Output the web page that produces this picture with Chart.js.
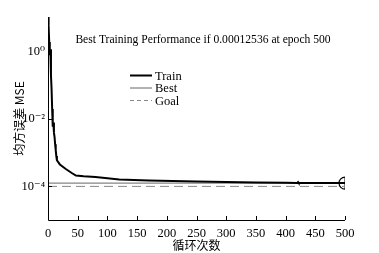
<!DOCTYPE html>
<html>
<head>
<meta charset="utf-8">
<script src="https://cdn.jsdelivr.net/npm/chart.js@4.4.1/dist/chart.umd.min.js"></script>
<style>
  html, body { margin: 0; padding: 0; background: #fff; }
  #wrap { width: 379px; height: 253px; position: relative; }
</style>
</head>
<body>
<div id="wrap"><canvas id="perfChart" width="379" height="253"></canvas></div>
<script>
// training record
const trainEpochs = [0, 1, 2, 3, 4, 5, 6, 7, 8, 9, 10, 11, 12, 13, 14, 15, 20, 30, 40, 47, 60, 80, 100, 120, 170, 250, 300, 350, 400, 420, 421, 422, 450, 500];
const trainMse = [11, 6, 2, 0.8, 1.2, 0.2, 0.08, 0.02, 0.006, 0.008, 0.004, 0.003, 0.0018, 0.0012, 0.0008, 0.0006, 0.00045, 0.00033, 0.00025, 0.00021, 0.0002, 0.00019, 0.000175, 0.00016, 0.00015, 0.00014, 0.000135, 0.00013, 0.000128, 0.000127, 0.000134, 0.000127, 0.000126, 0.00012536];
const bestValue = 0.00012536;
const bestEpoch = 500;
const goalValue = 0.0001;
const xTicks = [0, 50, 100, 150, 200, 250, 300, 350, 400, 450, 500];
const yTicks = [1e-4, 1e-2, 1];
const yTickLabels = ['10\u207B\u2074', '10\u207B\u00B2', '10\u2070'];
const titleText = 'Best Training Performance if 0.00012536 at epoch 500';
const serif = '"Liberation Serif", "DejaVu Serif", serif';

const trainPoints = trainEpochs.map((e, i) => ({ x: e, y: trainMse[i] }));

// ticks inside the axes, title and legend inside the plot like matlab
const matlabLook = {
    id: 'matlabLook',
    afterDraw(chart) {
        const ctx = chart.ctx;
        const xs = chart.scales.x;
        const ys = chart.scales.y;
        const area = chart.chartArea;
        ctx.save();
        ctx.strokeStyle = '#000';
        ctx.lineWidth = 1;
        ctx.beginPath();
        ctx.moveTo(area.left + 0.5, area.top);
        ctx.lineTo(area.left + 0.5, area.bottom + 0.5);
        ctx.lineTo(area.right, area.bottom + 0.5);
        ctx.stroke();
        xTicks.forEach(v => {
            const px = Math.round(xs.getPixelForValue(v)) + 0.5;
            ctx.beginPath();
            ctx.moveTo(px, area.bottom);
            ctx.lineTo(px, area.bottom - 4);
            ctx.stroke();
        });
        yTicks.forEach(v => {
            const py = Math.round(ys.getPixelForValue(v)) + 0.5;
            ctx.beginPath();
            ctx.moveTo(area.left, py);
            ctx.lineTo(area.left + 4, py);
            ctx.stroke();
        });

        ctx.fillStyle = '#000';
        ctx.font = '11.6px ' + serif;
        ctx.textAlign = 'center';
        ctx.textBaseline = 'middle';
        ctx.fillText(titleText, 203, 40);

        const legend = [
            { label: 'Train', color: '#000', width: 2, dash: [] },
            { label: 'Best', color: '#666', width: 1, dash: [] },
            { label: 'Goal', color: '#888', width: 1, dash: [4, 3] }
        ];
        ctx.font = '12.5px ' + serif;
        ctx.textAlign = 'left';
        legend.forEach((item, i) => {
            const y = 75.5 + i * 12.5;
            ctx.strokeStyle = item.color;
            ctx.lineWidth = item.width;
            ctx.setLineDash(item.dash);
            ctx.beginPath();
            ctx.moveTo(130, y);
            ctx.lineTo(152, y);
            ctx.stroke();
            ctx.setLineDash([]);
            ctx.fillText(item.label, 155, y + 1);
        });
        ctx.restore();
    }
};

new Chart(document.getElementById('perfChart').getContext('2d'), {
    type: 'line',
    data: {
        datasets: [
            {
                label: 'Train',
                data: trainPoints,
                borderColor: '#000',
                borderWidth: 2,
                pointRadius: 0,
                tension: 0
            },
            {
                label: 'Best',
                data: [{ x: 0, y: bestValue }, { x: bestEpoch, y: bestValue }],
                borderColor: '#666',
                borderWidth: 1,
                pointRadius: 0
            },
            {
                label: 'Goal',
                data: [{ x: 0, y: goalValue }, { x: bestEpoch, y: goalValue }],
                borderColor: '#888',
                borderWidth: 1,
                borderDash: [9, 5],
                pointRadius: 0
            },
            {
                label: 'Best point',
                data: [{ x: bestEpoch, y: bestValue }],
                showLine: false,
                pointStyle: 'circle',
                pointRadius: 6,
                pointBorderColor: '#000',
                pointBackgroundColor: 'rgba(0,0,0,0)',
                pointBorderWidth: 1.2
            },
            {
                label: 'Best mark',
                data: [{ x: bestEpoch, y: bestValue }],
                showLine: false,
                pointStyle: 'line',
                rotation: 90,
                pointRadius: 6,
                pointBorderColor: '#000',
                pointBorderWidth: 1
            }
        ]
    },
    options: {
        responsive: false,
        animation: false,
        layout: { padding: { left: 0, top: 17, right: 34, bottom: 0 } },
        plugins: {
            legend: { display: false },
            title: { display: false },
            tooltip: { enabled: false }
        },
        scales: {
            x: {
                type: 'linear',
                min: 0,
                max: 500,
                afterFit: scale => { scale.height = 33; },
                afterBuildTicks: scale => { scale.ticks = xTicks.map(v => ({ value: v })); },
                grid: { display: false, drawTicks: false },
                border: { display: false },
                ticks: {
                    color: '#000',
                    padding: 6,
                    maxRotation: 0,
                    autoSkip: false,
                    font: { family: serif, size: 12.5 }
                },
                title: {
                    display: true,
                    text: '循环次数',
                    color: '#000',
                    padding: { top: 0, bottom: 0 },
                    font: { family: '"Noto Sans CJK SC"', size: 12 }
                }
            },
            y: {
                type: 'logarithmic',
                min: 1e-5,
                max: 11,
                afterFit: scale => { scale.width = 48; },
                afterBuildTicks: scale => { scale.ticks = yTicks.map(v => ({ value: v })); },
                grid: { display: false, drawTicks: false },
                border: { display: false },
                ticks: {
                    color: '#000',
                    padding: 3,
                    autoSkip: false,
                    font: { family: serif, size: 12.5 },
                    callback: value => {
                        const i = yTicks.findIndex(t => Math.abs(Math.log10(t) - Math.log10(value)) < 1e-6);
                        return i >= 0 ? yTickLabels[i] : '';
                    }
                },
                title: {
                    display: true,
                    text: '均方误差 MSE',
                    color: '#000',
                    padding: { top: 12, bottom: 0 },
                    font: { family: '"Noto Sans CJK SC"', size: 12 }
                }
            }
        }
    },
    plugins: [matlabLook]
});
</script>
</body>
</html>
